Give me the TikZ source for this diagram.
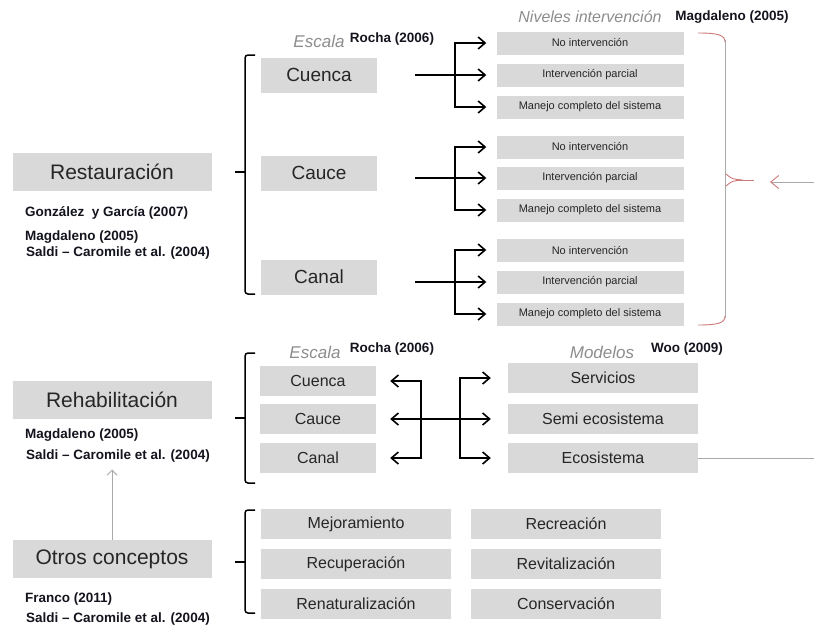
\documentclass[tikz,border=0pt]{standalone}
\usepackage{fontspec}
\setmainfont{Liberation Sans}
\usetikzlibrary{arrows.meta}
\definecolor{boxgray}{RGB}{217,217,217}
\definecolor{textdark}{RGB}{38,38,38}
\definecolor{headgray}{RGB}{140,140,140}
\definecolor{linegray}{RGB}{170,170,170}
\definecolor{bracepink}{RGB}{205,120,120}
\definecolor{citeblack}{RGB}{20,20,30}
\newcommand{\bigtxt}{\fontsize{21}{25}\selectfont}
\newcommand{\cuentxt}{\fontsize{19}{23}\selectfont}
\newcommand{\midtxt}{\fontsize{16}{19}\selectfont}
\newcommand{\smalltxt}{\fontsize{11}{13}\selectfont}
\newcommand{\citetxt}{\fontsize{13.5}{16}\selectfont\bfseries}
\newcommand{\headtxt}{\fontsize{17}{20}\selectfont\itshape}
\tikzstyle{concept} = [
    rectangle,
    fill=boxgray,
    text=textdark,
    minimum width=199pt,
    minimum height=38pt,
    inner sep=0pt,
    font=\bigtxt
]
\tikzstyle{escalabox} = [
    rectangle,
    fill=boxgray,
    text=textdark,
    minimum width=116pt,
    minimum height=35pt,
    inner sep=0pt,
    font=\cuentxt
]
\tikzstyle{nivelbox} = [
    rectangle,
    fill=boxgray,
    text=textdark,
    minimum width=187pt,
    minimum height=23pt,
    inner sep=0pt,
    font=\smalltxt
]
\tikzstyle{modelbox} = [
    rectangle,
    fill=boxgray,
    text=textdark,
    minimum width=190pt,
    minimum height=30pt,
    inner sep=0pt,
    font=\midtxt
]
\tikzstyle{refcite} = [inner sep=0pt, text=citeblack, font=\citetxt]
\tikzstyle{heading} = [inner sep=0pt, text=headgray, font=\headtxt]
\tikzstyle{arrow} = [line width=1.6pt,->,>={Straight Barb[length=7pt,width=12pt]}]
\tikzstyle{bracket} = [line width=1.5pt, rounded corners=3pt]
\tikzstyle{thinline} = [line width=0.9pt, draw=linegray]
\tikzstyle{pinkline} = [line width=0.9pt, draw=bracepink]
\begin{document}
\begin{tikzpicture}[x=1pt, y=-1pt]
\useasboundingbox (0,0) rectangle (814,627);

% Restauracion
\node (rest) [concept] at (112,172) {Restauración};
\node (gonz) [refcite, anchor=west] at (25,213) {González \ y García (2007)};
\node (magd1) [refcite, anchor=west] at (25,237) {Magdaleno (2005)};
\node (saldi1) [refcite, anchor=west] at (26,253) {Saldi – Caromile et al. (2004)};

\node (escala1) [heading] at (319,41) {Escala};
\node (rocha1) [refcite] at (392,39) {Rocha (2006)};
\node (niveles) [heading, font=\fontsize{16}{19}\selectfont\itshape] at (590,17) {Niveles intervención};
\node (magd0) [refcite] at (732,17) {Magdaleno (2005)};

\node (cuenca1) [escalabox] at (319,75) {Cuenca};
\node (cauce1) [escalabox] at (319,173) {Cauce};
\node (canal1) [escalabox] at (319,277) {Canal};

\node (noint1) [nivelbox] at (590,43) {No intervención};
\node (parc1) [nivelbox] at (590,75) {Intervención parcial};
\node (mane1) [nivelbox] at (590,107) {Manejo completo del sistema};
\node (noint2) [nivelbox] at (590,147) {No intervención};
\node (parc2) [nivelbox] at (590,178) {Intervención parcial};
\node (mane2) [nivelbox] at (590,210) {Manejo completo del sistema};
\node (noint3) [nivelbox] at (590,250) {No intervención};
\node (parc3) [nivelbox] at (590,282) {Intervención parcial};
\node (mane3) [nivelbox] at (590,314) {Manejo completo del sistema};

\coordinate (bus1) at (455,75);
\coordinate (bus2) at (455,178);
\coordinate (bus3) at (455,282);
\draw [arrow, shorten <=38pt, shorten >=10pt] (parc1.west -| cuenca1.east) -- (parc1.west);
\draw [arrow, shorten >=10pt] (bus1) |- (noint1.west);
\draw [arrow, shorten >=10pt] (bus1) |- (mane1.west);
\draw [arrow, shorten <=38pt, shorten >=10pt] (parc2.west -| cauce1.east) -- (parc2.west);
\draw [arrow, shorten >=10pt] (bus2) |- (noint2.west);
\draw [arrow, shorten >=10pt] (bus2) |- (mane2.west);
\draw [arrow, shorten <=38pt, shorten >=10pt] (parc3.west -| canal1.east) -- (parc3.west);
\draw [arrow, shorten >=10pt] (bus3) |- (noint3.west);
\draw [arrow, shorten >=10pt] (bus3) |- (mane3.west);

\draw [bracket] (255,55) -- (245,55) -- (245,294) -- (255,294);
\draw [bracket] (235,172) -- (245,172);

% llave de niveles
\draw [thinline] (725,40) -- (725,318);
\draw [pinkline] (698,33) .. controls (718,33) and (725,35) .. (725,42);
\draw [pinkline] (698,325) .. controls (718,325) and (725,323) .. (725,316);
\draw [pinkline] (726,174) .. controls (732,179) .. (742,180);
\draw [pinkline] (726,186) .. controls (732,181) .. (742,180);
\draw [pinkline] (738,180) -- (754,180);
\coordinate (bracetip) at (754,182);
\coordinate (rightsrc) at (814,182);
\draw [thinline, -{Straight Barb[length=8pt,width=13pt,color=bracepink]}, shorten >=16pt] (rightsrc) -- (bracetip);

% Rehabilitacion
\node (rehab) [concept] at (112,400) {Rehabilitación};
\node (magd2) [refcite, anchor=west] at (25,435) {Magdaleno (2005)};
\node (saldi2) [refcite, anchor=west] at (26,456) {Saldi – Caromile et al. (2004)};

\node (escala2) [heading] at (315,352) {Escala};
\node (rocha2) [refcite] at (392,349) {Rocha (2006)};
\node (modelos) [heading] at (602,352) {Modelos};
\node (woo) [refcite] at (687,349) {Woo (2009)};

\node (cuenca2) [escalabox, minimum height=30pt, font=\midtxt] at (318,381) {Cuenca};
\node (cauce2) [escalabox, minimum height=30pt, font=\midtxt] at (318,419) {Cauce};
\node (canal2) [escalabox, minimum height=30pt, font=\midtxt] at (318,458) {Canal};

\node (serv) [modelbox] at (603,378) {Servicios};
\node (semi) [modelbox] at (603,419) {Semi ecosistema};
\node (eco) [modelbox] at (603,458) {Ecosistema};

\coordinate (lbus) at (421,419);
\coordinate (rbus) at (460,419);
\draw [arrow, shorten >=14pt] (lbus) |- (cuenca2.east);
\draw [arrow, shorten >=14pt] (lbus) |- (canal2.east);
\draw [arrow, shorten >=17pt] (rbus) |- (serv.west);
\draw [arrow, shorten >=17pt] (rbus) |- (eco.west);
\draw [arrow, <->, shorten <=14pt, shorten >=17pt] (cauce2.east) -- (semi.west);

\coordinate (rightend) at (814,458);
\draw [thinline] (eco.east) -- (rightend);

\draw [bracket] (255,353) -- (245,353) -- (245,483) -- (255,483);
\draw [bracket] (235,418) -- (245,418);

% Otros conceptos
\node (otros) [concept] at (112,559) {Otros conceptos};
\node (franco) [refcite, anchor=west] at (25,599) {Franco (2011)};
\node (saldi3) [refcite, anchor=west] at (26,619) {Saldi – Caromile et al. (2004)};
\draw [thinline, -{Straight Barb[length=5pt,width=10pt]}, shorten >=7pt] (otros.north) -- (otros.north |- saldi2.south);

\node (mejo) [modelbox] at (356,524) {Mejoramiento};
\node (recu) [modelbox] at (356,564) {Recuperación};
\node (renat) [modelbox] at (356,604) {Renaturalización};
\node (recr) [modelbox] at (566,524) {Recreación};
\node (revi) [modelbox] at (566,564) {Revitalización};
\node (cons) [modelbox] at (566,604) {Conservación};

\draw [bracket] (255,510) -- (245,510) -- (245,613) -- (255,613);
\draw [bracket] (235,562) -- (245,562);

\end{tikzpicture}
\end{document}
